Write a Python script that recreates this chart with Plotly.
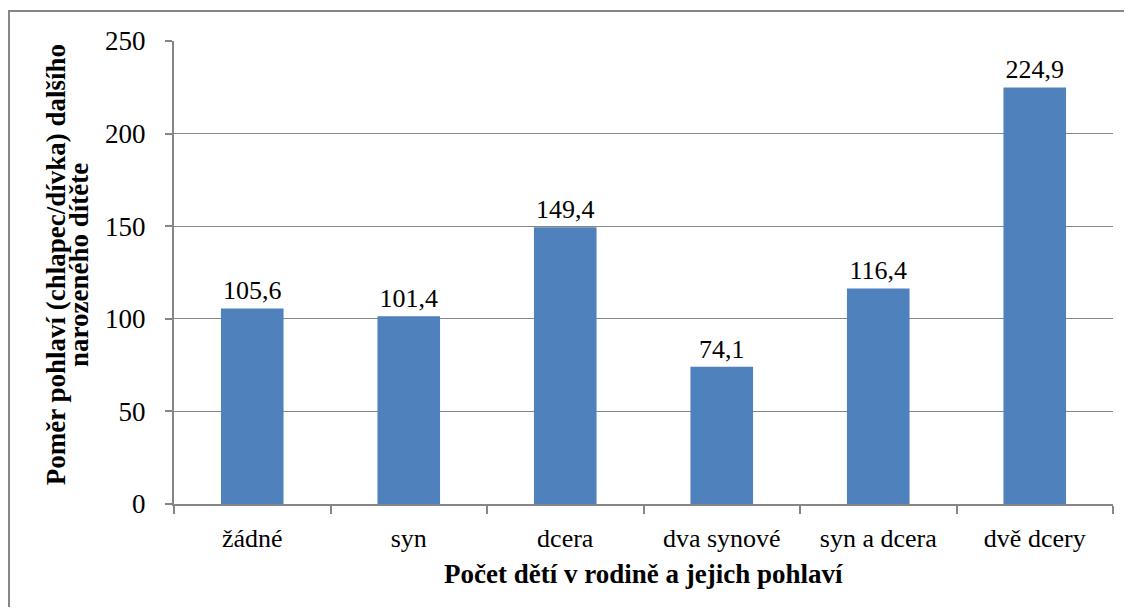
import plotly.graph_objects as go

categories = ["žádné", "syn", "dcera", "dva synové", "syn a dcera", "dvě dcery"]
ratios = [105.6, 101.4, 149.4, 74.1, 116.4, 224.9]
y_ticks = [0, 50, 100, 150, 200, 250]
y_title_lines = ["Poměr pohlaví (chlapec/dívka) dalšího", "narozeného dítěte"]
x_title = "Počet dětí v rodině a jejich pohlaví"

font = "Liberation Serif"
grey = "#868686"

fig = go.Figure()
fig.add_trace(go.Bar(
    x=categories, y=ratios,
    marker=dict(color="#4F81BD", line=dict(width=0)),
    texttemplate="%{y:.1f}", textposition="outside",
    textfont=dict(family=font, size=26, color="black"),
    cliponaxis=False, width=0.4,
))

# page body has an 8px margin, so the figure is sized to fit inside it
fig.update_layout(
    width=1116, height=599,
    margin=dict(l=166, r=11, t=33, b=103),
    paper_bgcolor="white", plot_bgcolor="white",
    separators=", ",
    showlegend=False,
    font=dict(family=font, size=26, color="black"),
)
fig.update_xaxes(
    tickson="boundaries", ticks="outside", ticklen=8, tickcolor=grey, tickwidth=2,
    showline=True, linecolor=grey, linewidth=2,
    tickfont=dict(family=font, size=26), ticklabelstandoff=10, range=[-0.5, 5.5],
)
fig.update_yaxes(
    range=[0, 250], tickvals=y_ticks, ticks="outside", ticklen=7,
    tickcolor=grey, tickwidth=2, showline=True, linecolor=grey, linewidth=2,
    showgrid=True, gridcolor=grey, gridwidth=1, zeroline=False,
    tickfont=dict(family=font, size=27), ticklabelstandoff=14,
)

# y title as two rotated lines (tighter spacing than <br>)
for xpos, line in zip([-0.1255, -0.1012], y_title_lines):
    fig.add_annotation(
        text="<b>" + line + "</b>", textangle=-90,
        xref="paper", yref="paper", x=xpos, y=0.516,
        xanchor="center", yanchor="middle",
        showarrow=False, font=dict(family=font, size=27),
    )
fig.add_annotation(
    text="<b>" + x_title + "</b>",
    xref="paper", yref="paper", x=0.5, y=-0.151, yanchor="middle",
    showarrow=False, font=dict(family=font, size=27),
)
fig.add_shape(
    type="rect", xref="paper", yref="paper",
    x0=-0.1757, x1=1.1, y0=-0.4, y1=1.0648,
    line=dict(color=grey, width=2), fillcolor="rgba(0,0,0,0)", layer="below",
)

fig.write_html("out.html")
